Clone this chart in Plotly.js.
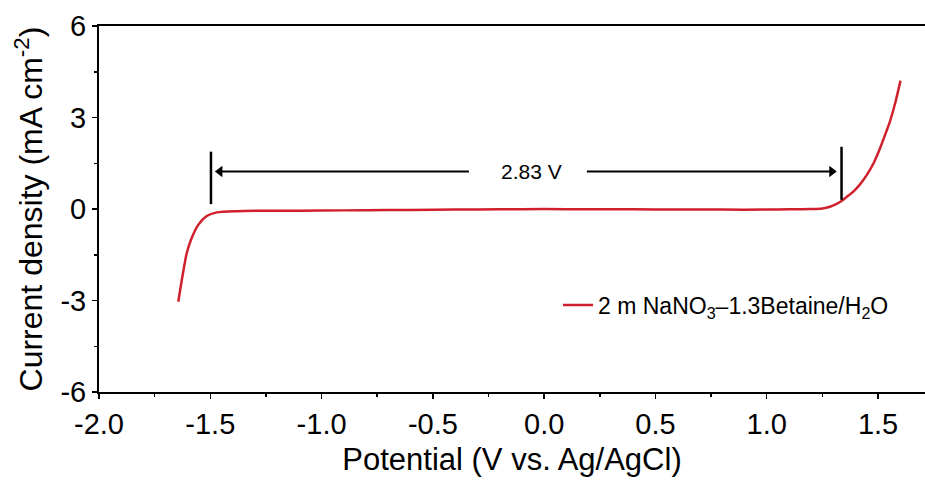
<!DOCTYPE html>
<html>
<head>
<meta charset="utf-8">
<script src="https://cdn.plot.ly/plotly-3.0.1.min.js"></script>
<style>html,body{margin:0;padding:0;background:#fff;}#chart{width:925px;height:482px;}</style>
</head>
<body>
<div id="chart"></div>
<script>
// LSV curve (V vs. Ag/AgCl, mA cm^-2)
const potential = [-1.644,-1.628,-1.606,-1.584,-1.554,-1.516,-1.471,-1.381,-1.292,-1.2,-1.0,-0.8,-0.6,-0.4,-0.2,0.0,0.2,0.4,0.6,0.8,1.0,1.1,1.2,1.25,1.284,1.31,1.336,1.36,1.389,1.418,1.449,1.48,1.509,1.53,1.553,1.578,1.601];
const current = [-3.04,-2.33,-1.45,-0.96,-0.52,-0.23,-0.11,-0.07,-0.06,-0.06,-0.05,-0.04,-0.03,-0.02,-0.01,0.0,-0.01,-0.01,-0.02,-0.02,-0.02,-0.01,0.0,0.02,0.075,0.15,0.26,0.40,0.57,0.80,1.11,1.50,1.99,2.40,2.86,3.50,4.21];
const seriesName = '2 m NaNO<sub>3</sub>\u20131.3Betaine/H<sub>2</sub>O';

// Stability window markers
const windowEdges = [-1.497, 1.336];
const windowBarLow = [0.16, 0.30];
const windowBarHigh = [1.88, 2.04];
const arrowLevel = 1.23;
const arrowTails = [-0.338, 0.192];
const arrowHeadCenters = [-1.457, 1.292];
const arrowHeadSymbols = ['triangle-left', 'triangle-right'];
const windowLabel = '2.83 V';
const windowLabelX = -0.057;

// Axis ticks
const xTickVals = [-2.0,-1.5,-1.0,-0.5,0.0,0.5,1.0,1.5];
const xTickText = ['-2.0','-1.5','-1.0','-0.5','0.0','0.5','1.0','1.5'];
const yTickVals = [-6,-3,0,3,6];
const yTickText = ['-6','-3','0','3','6'];

const FONT = 'Liberation Sans, Arial, sans-serif';

const curve = {
  x: potential, y: current, type: 'scatter', mode: 'lines', name: seriesName,
  line: {color: '#d1202d', width: 2.5, shape: 'spline', smoothing: 0.6},
  showlegend: true
};

const heads = {
  x: arrowHeadCenters, y: arrowHeadCenters.map(() => arrowLevel),
  type: 'scatter', mode: 'markers', showlegend: false, hoverinfo: 'skip',
  marker: {symbol: arrowHeadSymbols, size: 10, color: '#000', line: {width: 0}}
};

const shapes = windowEdges.map((e, i) => ({
  type: 'line', xref: 'x', yref: 'y', x0: e, x1: e, y0: windowBarLow[i], y1: windowBarHigh[i],
  line: {color: '#000', width: 2.5}
}));
arrowTails.forEach((t, i) => shapes.push({
  type: 'line', xref: 'x', yref: 'y', x0: t, x1: arrowHeadCenters[i], y0: arrowLevel, y1: arrowLevel,
  line: {color: '#000', width: 2}
}));

const annotations = [{
  x: windowLabelX, y: arrowLevel, xref: 'x', yref: 'y', text: windowLabel, showarrow: false,
  font: {family: FONT, size: 21, color: '#000'}
}];

const layout = {
  width: 925, height: 482,
  margin: {l: 99, r: 0, t: 26, b: 90},
  paper_bgcolor: '#fff', plot_bgcolor: '#fff',
  font: {family: FONT, color: '#000'},
  xaxis: {
    range: [-2, 1.711], tickvals: xTickVals, ticktext: xTickText,
    ticks: 'outside', ticklen: 5, tickwidth: 1.5, tickcolor: '#000',
    minor: {ticks: 'outside', ticklen: 3, tickwidth: 1.5, tickcolor: '#000', dtick: 0.25, showgrid: false},
    showline: true, linecolor: '#000', linewidth: 2, mirror: true,
    showgrid: false, zeroline: false,
    tickfont: {family: FONT, size: 29, color: '#000'},
    title: {text: 'Potential (V vs. Ag/AgCl)', font: {family: FONT, size: 31, color: '#000'}, standoff: 10}
  },
  yaxis: {
    range: [-6, 6], tickvals: yTickVals, ticktext: yTickText,
    ticks: 'outside', ticklen: 5, tickwidth: 1.5, tickcolor: '#000',
    minor: {ticks: 'outside', ticklen: 3, tickwidth: 1.5, tickcolor: '#000', dtick: 1.5, showgrid: false},
    showline: true, linecolor: '#000', linewidth: 2, mirror: false,
    showgrid: false, zeroline: false,
    tickfont: {family: FONT, size: 29, color: '#000'},
    title: {text: 'Current density (mA cm<sup>-2</sup>)', font: {family: FONT, size: 32, color: '#000'}, standoff: 8}
  },
  legend: {
    x: (558 - 99) / 826, y: (392 - 305) / 366, xanchor: 'left', yanchor: 'middle',
    bgcolor: 'rgba(0,0,0,0)', borderwidth: 0,
    font: {family: FONT, size: 23, color: '#000'}
  },
  shapes: shapes,
  annotations: annotations
};

Plotly.newPlot('chart', [curve, heads], layout, {staticPlot: true, displayModeBar: false});
</script>
</body>
</html>
